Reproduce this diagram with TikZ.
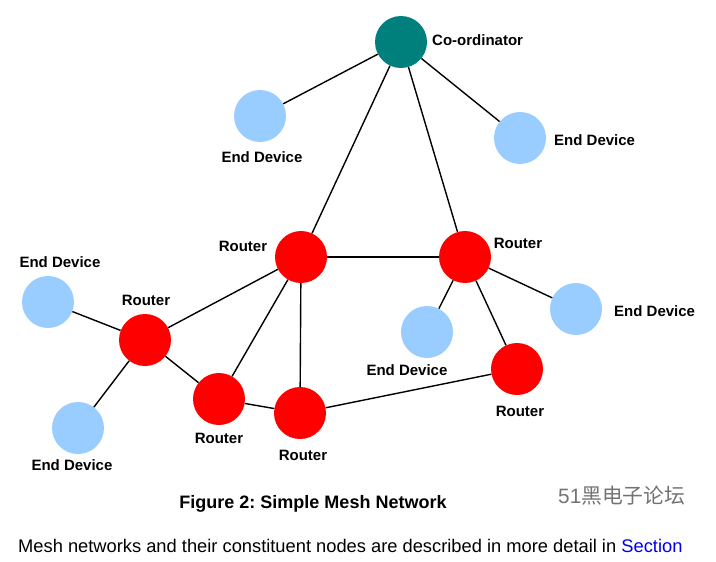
\documentclass[tikz,border=0pt]{standalone}
\usepackage{fontspec}
\setmainfont{Liberation Sans}
\newfontfamily\cjkfont{Noto Sans CJK SC}
\frenchspacing
\definecolor{coordteal}{RGB}{0,128,124}
\definecolor{enddev}{RGB}{153,204,255}
\definecolor{linkblue}{RGB}{0,0,238}

\tikzstyle{coord}=[fill=coordteal,circle,minimum size=52pt,inner sep=0pt]
\tikzstyle{router}=[fill=red,circle,minimum size=52pt,inner sep=0pt]
\tikzstyle{enddevice}=[fill=enddev,circle,minimum size=52pt,inner sep=0pt]
\tikzstyle{tag}=[font=\fontsize{15}{18}\selectfont\bfseries,inner sep=0pt]
\tikzstyle{link}=[line width=1.4pt]

\begin{document}
\begin{tikzpicture}[x=1pt,y=-1pt]
  \useasboundingbox (0,0) rectangle (716,562);
  \node (c)[coord] at (401,42) {};
  \node (ra)[router] at (301,257) {};
  \node (rb)[router] at (465,257) {};
  \node (rc)[router] at (145,340) {};
  \node (rd)[router] at (219,399) {};
  \node (re)[router] at (300,413) {};
  \node (rf)[router] at (517,369) {};
  \node (e1)[enddevice] at (260,116) {};
  \node (e2)[enddevice] at (520,138) {};
  \node (e3)[enddevice] at (48,302) {};
  \node (e4)[enddevice] at (78,428) {};
  \node (e5)[enddevice] at (427,332) {};
  \node (e6)[enddevice] at (576,309) {};

    \draw[link] (c) -- (e1);
    \draw[link] (c) -- (e2);
    \draw[link] (c) -- (ra);
    \draw[link] (c) -- (rb);
    \draw[link] (ra) -- (rb);
    \foreach \j in {c, d, e}{
        \draw[link] (ra) -- (r\j);
    }
    \draw[link] (rc) -- (e3);
    \draw[link] (rc) -- (e4);
    \draw[link] (rc) -- (rd);
    \draw[link] (rd) -- (re);
    \draw[link] (re) -- (rf);
    \draw[link] (rb) -- (e5);
    \draw[link] (rb) -- (e6);
    \draw[link] (rb) -- (rf);

  \node (lc)[tag,anchor=west] at (432,40) {Co-ordinator};
  \node (l1)[tag] at (262,157) {End Device};
  \node (l2)[tag,anchor=west] at (554,140) {End Device};
  \node (l3)[tag] at (60,262) {End Device};
  \node (l4)[tag] at (72,465) {End Device};
  \node (l5)[tag] at (407,370) {End Device};
  \node (l6)[tag,anchor=west] at (614,311) {End Device};
  \node (la)[tag] at (243,246) {Router};
  \node (lb)[tag] at (518,243) {Router};
  \node (lr3)[tag] at (146,300) {Router};
  \node (ld)[tag] at (219,438) {Router};
  \node (le)[tag] at (303,455) {Router};
  \node (lf)[tag] at (520,411) {Router};

  \node (cap)[font=\fontsize{18}{21}\selectfont\bfseries,inner sep=0pt] at (313,504) {Figure 2: Simple Mesh Network};
  \node (wm)[text=black!55,font=\fontsize{20.8}{24}\selectfont,inner sep=0pt,anchor=west] at (558,496) {51{\cjkfont 黑电子论坛}};
  \node (body)[font=\fontsize{18.3}{22}\selectfont,inner sep=0pt,anchor=west] at (18,546) {Mesh networks and their constituent nodes are described in more detail in \textcolor{linkblue}{Section}};
\end{tikzpicture}
\end{document}
